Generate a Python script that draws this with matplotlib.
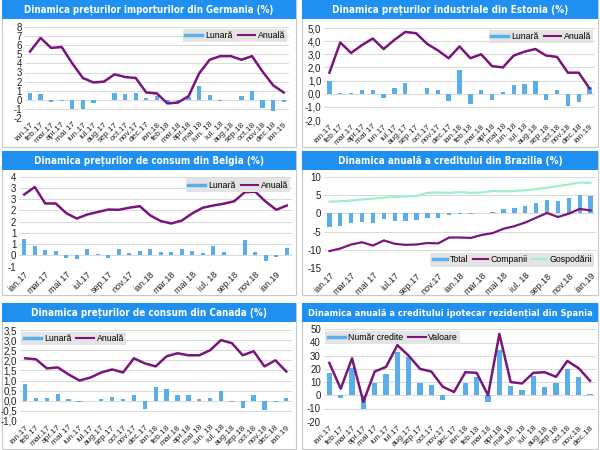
import matplotlib
matplotlib.use('Agg')
from matplotlib import pyplot as plt
from matplotlib import font_manager
from matplotlib.patches import Rectangle
from matplotlib.lines import Line2D
import numpy as np

plt.rcParams['font.family'] = ['Liberation Sans', 'DejaVu Sans']

BAR_BLUE = '#5aaeea'
PURPLE = '#7a157e'
MINT = '#9ff0c6'
TITLE_BG = '#1f8ff0'
GRID = '#d9d9d9'

# ---- data ----
months_25 = ['ian.17', 'feb.17', 'mar.17', 'apr.17', 'mai 17', 'iun.17', 'iul.17', 'aug.17',
             'sep.17', 'oct.17', 'nov.17', 'dec.17', 'ian.18', 'feb.18', 'mar.18', 'apr.18',
             'mai 18', 'iun. 18', 'iul. 18', 'aug.18', 'sep.18', 'oct.18', 'nov.18', 'dec.18',
             'ian.19']
months_26 = months_25 + ['feb.19']
months_24 = months_25[:-1]

germany_monthly = [0.7, 0.6, -0.2, -0.1, -1.0, -1.0, -0.4, 0.0, 0.7, 0.6, 0.7, 0.2, 0.4,
                   -0.2, -0.2, 0.3, 1.5, 0.5, -0.1, 0.0, 0.4, 1.0, -0.9, -1.2, -0.2]
germany_annual = [5.3, 6.8, 5.7, 5.8, 4.0, 2.4, 1.9, 2.0, 2.8, 2.5, 2.4, 0.8, 0.7,
                  -0.4, -0.3, 0.4, 2.9, 4.4, 4.8, 4.8, 4.4, 4.8, 3.1, 1.6, 0.8]

estonia_monthly = [1.0, 0.05, 0.02, 0.3, 0.3, -0.3, 0.4, 0.85, 0.0, 0.45, 0.3, -0.55, 1.8,
                   -0.75, 0.25, -0.45, 0.1, 0.65, 0.75, 1.0, -0.45, 0.3, -0.9, -0.6, 0.5]
estonia_annual = [1.6, 3.9, 3.1, 3.7, 4.2, 3.4, 4.1, 4.7, 4.6, 3.8, 3.3, 2.7, 3.6,
                  2.7, 3.0, 2.1, 2.0, 2.9, 3.2, 3.4, 2.9, 2.8, 1.6, 1.6, 0.4]

belgium_monthly = [0.74, 0.4, 0.23, 0.2, -0.1, -0.15, 0.3, 0.06, -0.1, 0.3, 0.13, 0.2, 0.3,
                   0.15, 0.15, 0.3, 0.22, 0.1, 0.4, 0.15, 0.0, 0.7, 0.17, -0.25, -0.05, 0.35]
belgium_annual = [2.71, 3.04, 2.31, 2.31, 1.88, 1.64, 1.82, 1.93, 2.04, 2.03, 2.12, 2.19, 1.78,
                  1.53, 1.42, 1.55, 1.87, 2.12, 2.22, 2.3, 2.41, 2.81, 2.83, 2.39, 2.03, 2.22]
belgium_yticklabels = ['-1', '0', '1', '1', '2', '2', '3', '3', '4']

brazil_total = [-3.8, -3.5, -2.6, -2.3, -2.6, -1.6, -2.0, -2.0, -1.9, -1.3, -1.2, -0.4, -0.2,
                -0.2, 0.0, 0.4, 1.2, 1.5, 2.1, 2.8, 3.6, 3.4, 4.1, 4.9, 4.8]
brazil_firms = [-10.3, -9.6, -8.5, -7.9, -8.8, -7.4, -8.3, -8.6, -8.5, -8.1, -8.2, -6.6, -6.6,
                -6.7, -5.9, -5.4, -4.2, -3.5, -2.5, -1.2, 0.1, -1.0, -0.1, 1.2, 0.8]
brazil_households = [3.2, 3.3, 3.5, 3.8, 4.0, 4.3, 4.5, 4.6, 4.7, 5.6, 5.7, 5.6, 5.8,
                     5.6, 5.7, 6.1, 6.0, 6.1, 6.3, 6.6, 7.0, 7.4, 7.9, 8.4, 8.3]

canada_monthly = [0.85, 0.15, 0.15, 0.35, 0.1, -0.05, 0.0, 0.08, 0.2, 0.08, 0.28, -0.4, 0.68,
                  0.6, 0.28, 0.28, 0.08, 0.15, 0.5, -0.05, -0.38, 0.28, -0.45, -0.05, 0.15]
canada_annual = [2.1, 2.05, 1.6, 1.65, 1.3, 1.0, 1.15, 1.4, 1.55, 1.4, 2.1, 1.85, 1.7,
                 2.2, 2.35, 2.25, 2.25, 2.5, 3.0, 2.85, 2.25, 2.45, 1.7, 2.0, 1.45]

spain_loans = [17, -2, 21, -10, 9.5, 16.5, 33, 29, 9, 8, -3.5, 0, 9, 13.5, -5, 34,
               7, 4, 14.5, 6.5, 9.5, 20, 14, 1]
spain_value = [24.5, 5, 28, -5, 18, 21.5, 38, 30, 20, 18, 6.5, 2.5, 17.5, 17, 0, 46.5,
               10, 9, 17, 17.5, 14, 26, 20.5, 11]

# pick the narrowest bold face we have for the title bars
_fonts = font_manager.fontManager.ttflist
_names = {f.name for f in _fonts}
if 'Liberation Sans Narrow' in _names:
    TITLE_FONT = dict(family=['Liberation Sans Narrow', 'DejaVu Sans'])
elif any(f.name == 'DejaVu Sans' and f.stretch in ('condensed', 'semi-condensed') for f in _fonts):
    TITLE_FONT = dict(family=['DejaVu Sans'], stretch='condensed')
else:
    TITLE_FONT = dict(family=['Liberation Sans', 'DejaVu Sans'])


def px_rect(l, t, r, b):
    # pixel box (top-left origin) -> figure fraction rect
    return [l / 600, 1 - b / 450, (r - l) / 600, (b - t) / 450]


def panel_frame(fig, l, t, r, b, title, title_w):
    fig.add_artist(Rectangle((l / 600, 1 - b / 450), (r - l) / 600, (b - t) / 450,
                             transform=fig.transFigure, facecolor='white',
                             edgecolor='#c8c8c8', lw=0.8, zorder=0))
    fig.add_artist(Rectangle((l / 600, 1 - (t + 19) / 450), (r - l) / 600, 19 / 450,
                             transform=fig.transFigure, facecolor=TITLE_BG,
                             edgecolor='none', zorder=1))
    txt = fig.text((l + r) / 2 / 600, 1 - (t + 10) / 450, title, color='white',
                   fontsize=9.5, fontweight='bold', ha='center', va='center', zorder=2,
                   **TITLE_FONT)
    # shrink the title until it spans about as wide as in the original
    renderer = fig.canvas.get_renderer()
    w = txt.get_window_extent(renderer).width
    if w > title_w:
        txt.set_fontsize(9.5 * title_w / w)


def style_axes(ax, labels, ylim, yticks, yticklabels, step=1):
    n = len(labels)
    ax.set_xlim(-0.5, n - 0.5)
    ax.set_ylim(*ylim)
    ax.set_yticks(yticks)
    ax.set_yticklabels(yticklabels, fontsize=7, color='#222222')
    pos = np.arange(0, n, step)
    ax.set_xticks(pos)
    ax.set_xticklabels([labels[i] for i in pos], rotation=45, ha='right',
                       rotation_mode='anchor', fontsize=6 if step == 1 else 6.5,
                       color='#222222')
    ax.tick_params(length=0, pad=2)
    ax.grid(axis='y', color=GRID, lw=0.7)
    ax.set_axisbelow(True)
    for s in ax.spines.values():
        s.set_visible(False)
    ax.patch.set_alpha(0)


def add_legend(ax, handles, names, loc, ncol, hl=2.0, cs=0.6):
    leg = ax.legend(handles, names, loc=loc, ncol=ncol, fontsize=6.3, frameon=True,
                    facecolor='#e4e4e4', edgecolor='none', fancybox=False, framealpha=1,
                    handlelength=hl, handletextpad=0.3, columnspacing=cs,
                    borderpad=0.25, borderaxespad=0.2)
    leg.set_zorder(5)


def bar_line_panel(ax, labels, bars, line, ylim, yticks, yticklabels, step=1, loc='upper right',
                   names=('Lunară', 'Anuală'), width=0.4):
    x = np.arange(len(labels))
    ax.bar(x, bars, width=width, color=BAR_BLUE, zorder=2)
    ax.plot(x, line, color=PURPLE, lw=1.8, zorder=3)
    style_axes(ax, labels, ylim, yticks, yticklabels, step)
    add_legend(ax, [Line2D([], [], color=BAR_BLUE, lw=2.5), Line2D([], [], color=PURPLE, lw=1.5)],
               list(names), loc, 2)


fig = plt.figure(figsize=(6, 4.5), dpi=100)

# panel frames and title bars
panel_frame(fig, 2, 0, 296, 147, 'Dinamica prețurilor importurilor din Germania (%)', 250)
panel_frame(fig, 302, 0, 598, 147, 'Dinamica prețurilor industriale din Estonia (%)', 236)
panel_frame(fig, 2, 151, 296, 295, 'Dinamica prețurilor de consum din Belgia (%)', 230)
panel_frame(fig, 302, 151, 598, 295, 'Dinamica anuală a creditului din Brazilia (%)', 224)
panel_frame(fig, 2, 303, 296, 449, 'Dinamica prețurilor de consum din Canada (%)', 236)
panel_frame(fig, 302, 303, 598, 449,
            'Dinamica anuală a creditului ipotecar rezidențial din Spania', 282)

# Germany
ax1 = fig.add_axes(px_rect(24.7, 27, 289, 118))
ticks = list(range(-2, 9))
bar_line_panel(ax1, months_25, germany_monthly, germany_annual, (-2, 8), ticks,
               [str(t) for t in ticks])

# Estonia
ax2 = fig.add_axes(px_rect(324, 28, 595, 120))
ticks = list(range(-2, 6))
bar_line_panel(ax2, months_25, estonia_monthly, estonia_annual, (-2, 5), ticks,
               [f'{t:.1f}'.replace('.', ',') for t in ticks])

# Belgium
ax3 = fig.add_axes(px_rect(19, 176.7, 292, 266.7))
ticks = list(np.arange(-0.5, 3.51, 0.5))
bar_line_panel(ax3, months_26, belgium_monthly, belgium_annual, (-0.5, 3.5), ticks,
               belgium_yticklabels, step=2)

# Brazil
ax4 = fig.add_axes(px_rect(324, 176.7, 596, 268.3))
x = np.arange(len(months_25))
ax4.bar(x, brazil_total, width=0.4, color=BAR_BLUE, zorder=2)
ax4.plot(x, brazil_firms, color=PURPLE, lw=1.6, zorder=3)
ax4.plot(x, brazil_households, color=MINT, lw=1.6, zorder=3)
ticks = list(range(-15, 11, 5))
style_axes(ax4, months_25, (-15, 10), ticks, [str(t) for t in ticks], step=2)
add_legend(ax4, [Line2D([], [], color=BAR_BLUE, lw=2.5), Line2D([], [], color=PURPLE, lw=1.5),
                 Line2D([], [], color=MINT, lw=1.5)],
           ['Total', 'Companii', 'Gospodării'], 'lower right', 3, hl=1.7, cs=0.5)

# Canada
ax5 = fig.add_axes(px_rect(19.7, 330, 291.7, 421))
ticks = list(np.arange(-1.0, 3.51, 0.5))
bar_line_panel(ax5, months_25, canada_monthly, canada_annual, (-1, 3.5), ticks,
               [f'{t:.1f}'.replace('.', ',') for t in ticks], loc='upper left')

# Spain
ax6 = fig.add_axes(px_rect(323.7, 329.3, 595.7, 421.7))
ticks = list(range(-20, 51, 10))
bar_line_panel(ax6, months_24, spain_loans, spain_value, (-20, 50), ticks,
               [str(t) for t in ticks], loc='upper left', names=('Număr credite', 'Valoare'),
               width=0.45)

fig.savefig('out.png', dpi=100)
